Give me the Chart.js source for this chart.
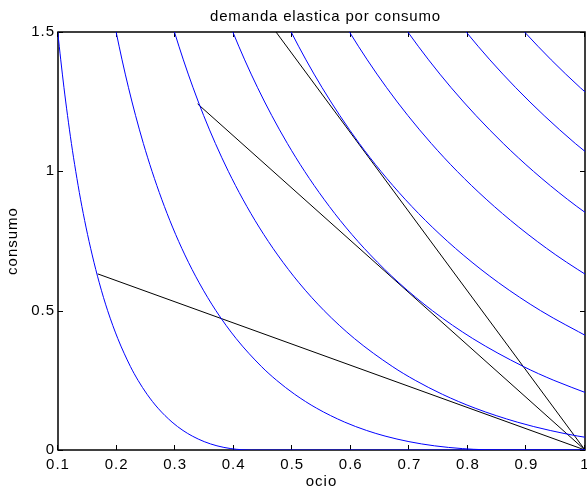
<!DOCTYPE html>
<html>
<head>
<meta charset="utf-8">
<script src="https://cdn.jsdelivr.net/npm/chart.js@4/dist/chart.umd.min.js"></script>
<style>
  html, body { margin: 0; padding: 0; background: #fff; }
  canvas { display: block; }
</style>
</head>
<body>
<canvas id="c" width="587" height="493" style="width:587px;height:493px"></canvas>
<script>
// ---- data ----
const titleText = 'demanda elastica por consumo';
const xTitle = 'ocio';
const yTitle = 'consumo';

const xTicks = [0.1, 0.2, 0.3, 0.4, 0.5, 0.6, 0.7, 0.8, 0.9, 1.0];
const xTickLabels = ['0.1', '0.2', '0.3', '0.4', '0.5', '0.6', '0.7', '0.8', '0.9', '1'];
const yTicks = [0, 0.5, 1, 1.5];
const yTickLabels = ['0', '0.5', '1', '1.5'];

// indifference curves  [ocio, consumo]
const curve1 = [[0.0950,1.6],[0.0996,1.5],[0.1047,1.4],[0.1102,1.3],[0.1163,1.2],[0.1229,1.1],[0.1303,1.0],[0.1385,0.9],[0.1478,0.8],[0.1584,0.7],[0.1705,0.6],[0.1848,0.5],[0.2021,0.4],[0.2236,0.3],[0.2367,0.25],[0.2521,0.2],[0.2708,0.15],[0.2948,0.1],[0.3135,0.07],[0.3293,0.05],[0.3497,0.03],[0.3715,0.015],[0.3952,0.005],[0.4141,0.001],[0.43,0],[1.0,0]];
const curve2 = [[0.1899,1.6],[0.1993,1.5],[0.2094,1.4],[0.2204,1.3],[0.2325,1.2],[0.2458,1.1],[0.2606,1.0],[0.2771,0.9],[0.2956,0.8],[0.3167,0.7],[0.3411,0.6],[0.3697,0.5],[0.4042,0.4],[0.4472,0.3],[0.4734,0.25],[0.5042,0.2],[0.5416,0.15],[0.5896,0.1],[0.6271,0.07],[0.6585,0.05],[0.6993,0.03],[0.7430,0.015],[0.7904,0.005],[0.8281,0.001],[0.86,0],[1.0,0]];
const curve3 = [[0.2849,1.6],[0.2989,1.5],[0.3141,1.4],[0.3307,1.3],[0.3488,1.2],[0.3688,1.1],[0.3909,1.0],[0.4156,0.9],[0.4434,0.8],[0.4751,0.7],[0.5116,0.6],[0.5545,0.5],[0.6062,0.4],[0.6708,0.3],[0.7101,0.25],[0.7563,0.2],[0.8124,0.15],[0.8843,0.1],[0.9406,0.07],[0.9878,0.05],[1.0490,0.03]];
const curve4 = [[0.3799,1.6],[0.3986,1.5],[0.4188,1.4],[0.4409,1.3],[0.4651,1.2],[0.4917,1.1],[0.5212,1.0],[0.5542,0.9],[0.5912,0.8],[0.6335,0.7],[0.6822,0.6],[0.7394,0.5],[0.8083,0.4],[0.8944,0.3],[0.9468,0.25],[1.0084,0.2]];
const curve5 = [[0.4749,1.6],[0.4982,1.5],[0.5235,1.4],[0.5511,1.3],[0.5814,1.2],[0.6146,1.1],[0.6515,1.0],[0.6927,0.9],[0.7391,0.8],[0.7919,0.7],[0.8527,0.6],[0.9242,0.5],[1.0104,0.4]];
const curve6 = [[0.5698,1.6],[0.5978,1.5],[0.6282,1.4],[0.6613,1.3],[0.6976,1.2],[0.7375,1.1],[0.7817,1.0],[0.8312,0.9],[0.8869,0.8],[0.9502,0.7],[1.0232,0.6]];
const curve7 = [[0.6648,1.6],[0.6975,1.5],[0.7329,1.4],[0.7715,1.3],[0.8139,1.2],[0.8604,1.1],[0.9120,1.0],[0.9698,0.9],[1.0347,0.8]];
const curve8 = [[0.7598,1.6],[0.7971,1.5],[0.8376,1.4],[0.8818,1.3],[0.9302,1.2],[0.9834,1.1],[1.0423,1.0]];
const curve9 = [[0.8547,1.6],[0.8968,1.5],[0.9423,1.4],[0.9920,1.3],[1.0464,1.2]];

// budget lines [ocio, consumo]
const budget1 = [[0.1678,0.632],[1.0,0]];
const budget2 = [[0.3385,1.242],[1.0,0]];
const budget3 = [[0.4723,1.5],[1.0,0]];

// ---- chart ----
const toXY = arr => arr.map(p => ({ x: p[0], y: p[1] }));
const curves = [curve1, curve2, curve3, curve4, curve5, curve6, curve7, curve8, curve9];
const budgets = [budget1, budget2, budget3];

const datasets = [
  ...curves.map(c => ({
    data: toXY(c), borderColor: '#0000ff', borderWidth: 1, pointRadius: 0,
    cubicInterpolationMode: 'monotone', fill: false
  })),
  ...budgets.map(b => ({
    data: toXY(b), borderColor: '#000000', borderWidth: 1, pointRadius: 0, fill: false
  }))
];

Chart.defaults.font.family = '"Liberation Sans", Arial, Helvetica, sans-serif';
Chart.defaults.font.size = 15;
Chart.defaults.color = '#000';

const matlabBox = {
  id: 'matlabBox',
  beforeDraw(chart) {
    chart.ctx.letterSpacing = '1px';
  },
  beforeDatasetsDraw(chart) {
    const { ctx, chartArea: a, scales: { x, y } } = chart;
    ctx.save();
    ctx.strokeStyle = '#000';
    ctx.lineWidth = 1.5;
    ctx.strokeRect(a.left, a.top, a.right - a.left, a.bottom - a.top);
    ctx.lineWidth = 1;
    ctx.beginPath();
    const tl = 5;
    xTicks.forEach(v => {
      const px = Math.round(x.getPixelForValue(v)) - 0.5;
      ctx.moveTo(px, a.bottom); ctx.lineTo(px, a.bottom - tl);
      ctx.moveTo(px, a.top); ctx.lineTo(px, a.top + tl);
    });
    yTicks.forEach(v => {
      const py = Math.round(y.getPixelForValue(v)) + 0.5;
      ctx.moveTo(a.left, py); ctx.lineTo(a.left + tl, py);
      ctx.moveTo(a.right, py); ctx.lineTo(a.right - tl, py);
    });
    ctx.stroke();
    ctx.restore();
  },
  afterDraw(chart) {
    const { ctx, chartArea: a } = chart;
    ctx.save();
    ctx.letterSpacing = '0.8px';
    ctx.font = '15px "Liberation Sans", Arial, sans-serif';
    ctx.fillStyle = '#000';
    ctx.textAlign = 'center';
    ctx.textBaseline = 'alphabetic';
    ctx.fillText(titleText, (a.left + a.right) / 2 + 4, a.top - 11.5);
    ctx.restore();
  }
};

new Chart(document.getElementById('c'), {
  type: 'line',
  data: { datasets },
  options: {
    responsive: false,
    animation: false,
    devicePixelRatio: 1,
    layout: { padding: { top: 32, right: 2, left: 0, bottom: 0 } },
    plugins: { legend: { display: false }, tooltip: { enabled: false }, title: { display: false } },
    events: [],
    scales: {
      x: {
        type: 'linear', min: 0.1, max: 1.0,
        grid: { display: false, drawTicks: false },
        border: { display: false },
        afterBuildTicks: s => { s.ticks = xTicks.map(v => ({ value: v })); },
        ticks: {
          autoSkip: false, maxRotation: 0, padding: 6,
          callback: (v, i) => xTickLabels[i]
        },
        title: { display: true, text: xTitle, padding: { top: 0, bottom: 2 } },
        afterFit: s => { s.height = 43; s.paddingLeft = 0; s.paddingRight = 0; }
      },
      y: {
        type: 'linear', min: 0, max: 1.5,
        grid: { display: false, drawTicks: false },
        border: { display: false },
        afterBuildTicks: s => { s.ticks = yTicks.map(v => ({ value: v })); },
        ticks: {
          autoSkip: false, padding: 3,
          callback: (v, i) => yTickLabels[i]
        },
        title: { display: true, text: yTitle, padding: { top: 4, bottom: 0 } },
        afterFit: s => { s.width = 58; s.paddingTop = 0; s.paddingBottom = 0; }
      }
    }
  },
  plugins: [matlabBox]
});
</script>
</body>
</html>
